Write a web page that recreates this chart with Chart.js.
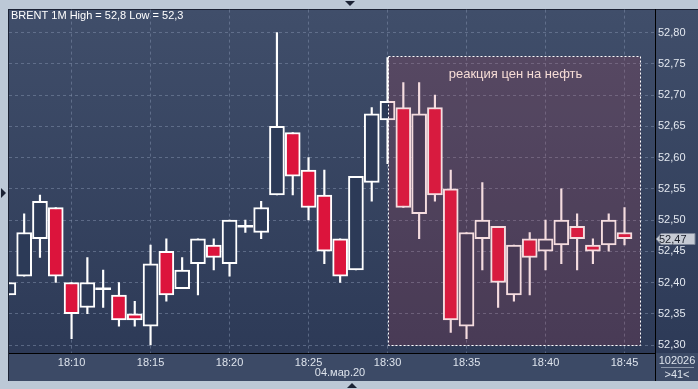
<!DOCTYPE html>
<html>
<head>
<meta charset="utf-8">
<script src="https://cdn.jsdelivr.net/npm/chart.js@4/dist/chart.umd.min.js"></script>
<style>
  html, body { margin: 0; padding: 0; background: #bcc8d6; }
  canvas { display: block; }
</style>
</head>
<body>
<canvas id="chart" width="698" height="389"></canvas>
<script>
// BRENT 1M, 04.03.20, 18:06 - 18:45 (minutes after 18:00)
const minutes = [6, 7, 8, 9, 10, 11, 12, 13, 14, 15, 16, 17, 18, 19, 20, 21, 22, 23, 24, 25,
                 26, 27, 28, 29, 30, 31, 32, 33, 34, 35, 36, 37, 38, 39, 40, 41, 42, 43, 44, 45];
const opens  = [52.38, 52.41, 52.47, 52.52, 52.40, 52.36, 52.39, 52.38, 52.35, 52.33, 52.45, 52.39, 52.43, 52.46, 52.43, 52.49, 52.48, 52.54, 52.64, 52.58,
                52.54, 52.47, 52.42, 52.56, 52.66, 52.68, 52.51, 52.68, 52.55, 52.33, 52.47, 52.49, 52.38, 52.47, 52.45, 52.46, 52.49, 52.46, 52.46, 52.48];
const highs  = [52.40, 52.51, 52.54, 52.52, 52.40, 52.44, 52.42, 52.40, 52.37, 52.46, 52.47, 52.44, 52.47, 52.47, 52.50, 52.50, 52.53, 52.80, 52.64, 52.60,
                52.58, 52.47, 52.57, 52.68, 52.76, 52.72, 52.72, 52.70, 52.58, 52.48, 52.56, 52.49, 52.46, 52.48, 52.50, 52.55, 52.51, 52.47, 52.51, 52.52];
const lows   = [52.38, 52.41, 52.44, 52.40, 52.31, 52.35, 52.36, 52.33, 52.33, 52.30, 52.37, 52.39, 52.38, 52.42, 52.41, 52.48, 52.47, 52.54, 52.54, 52.50,
                52.43, 52.40, 52.42, 52.53, 52.59, 52.52, 52.47, 52.53, 52.32, 52.31, 52.42, 52.36, 52.37, 52.38, 52.42, 52.43, 52.42, 52.43, 52.45, 52.46];
const closes = [52.40, 52.48, 52.53, 52.41, 52.35, 52.40, 52.39, 52.34, 52.34, 52.43, 52.38, 52.42, 52.47, 52.44, 52.50, 52.49, 52.52, 52.65, 52.57, 52.52,
                52.45, 52.41, 52.57, 52.67, 52.69, 52.52, 52.67, 52.54, 52.34, 52.48, 52.50, 52.40, 52.46, 52.44, 52.47, 52.50, 52.47, 52.45, 52.50, 52.47];

const xTickValues = [10, 15, 20, 25, 30, 35, 40, 45];
const yTickValues = [52.30, 52.35, 52.40, 52.45, 52.50, 52.55, 52.60, 52.65, 52.70, 52.75, 52.80];

// "реакция цен на нефть" zone (minutes / price)
const zoneStart = 30;
const zoneEnd = 46;
const zoneTop = 52.762;
const zoneBottom = 52.30;

const RED = '#dc143c';
const HOLLOW = '#2c3a57';
const FONT = '"Liberation Sans", Arial, sans-serif';

const fmt = (v, d) => v.toFixed(d).replace('.', ',');

const wickData = minutes.map((m, i) => ({ x: m, y: [lows[i], highs[i]] }));
const bodyData = minutes.map((m, i) => {
    let lo = Math.min(opens[i], closes[i]);
    let hi = Math.max(opens[i], closes[i]);
    if (hi - lo < 0.001) { lo -= 0.0015; hi += 0.0015; }
    return { x: m, y: [lo, hi] };
});
const isDoji = minutes.map((m, i) => Math.abs(opens[i] - closes[i]) < 0.001);
const bodyColors = minutes.map((m, i) => isDoji[i] ? '#ffffff' : (closes[i] < opens[i] ? RED : HOLLOW));
const bodyBorders = minutes.map((m, i) => isDoji[i] ? 0 : 2);

const backgroundPlugin = {
    id: 'panelBg',
    beforeDraw(chart) {
        const ctx = chart.ctx;
        const W = chart.width, H = chart.height;
        ctx.save();
        ctx.fillStyle = '#bcc8d6';
        ctx.fillRect(0, 0, W, H);
        const g = ctx.createLinearGradient(0, 9, 0, 353);
        g.addColorStop(0, '#404e6a');
        g.addColorStop(1, '#2d3a57');
        ctx.fillStyle = g;
        ctx.fillRect(9, 9, W - 9, 344);
        ctx.fillStyle = '#3c4a66';
        ctx.fillRect(9, 353, W - 9, 28);
        // frame lines
        ctx.strokeStyle = '#1b2234';
        ctx.lineWidth = 1;
        ctx.beginPath();
        ctx.moveTo(8.5, 9); ctx.lineTo(8.5, 381);
        ctx.moveTo(9, 9.5); ctx.lineTo(W, 9.5);
        ctx.stroke();
        // small triangles on the frame
        ctx.fillStyle = '#1b2234';
        ctx.beginPath();
        ctx.moveTo(345, 1); ctx.lineTo(355, 1); ctx.lineTo(350, 6); ctx.closePath();
        ctx.fill();
        ctx.beginPath();
        ctx.moveTo(347, 388); ctx.lineTo(357, 388); ctx.lineTo(352, 383); ctx.closePath();
        ctx.fill();
        ctx.beginPath();
        ctx.moveTo(1, 188); ctx.lineTo(6, 193); ctx.lineTo(1, 198); ctx.closePath();
        ctx.fill();
        ctx.restore();
    }
};

const overlayPlugin = {
    id: 'zone',
    afterDatasetsDraw(chart) {
        const ctx = chart.ctx;
        const xs = chart.scales.x, ys = chart.scales.y;
        const x1 = Math.round(xs.getPixelForValue(zoneStart)) + 0.5;
        const x2 = Math.round(xs.getPixelForValue(zoneEnd)) + 0.5;
        const y1 = Math.round(ys.getPixelForValue(zoneTop)) + 0.5;
        const y2 = Math.round(ys.getPixelForValue(zoneBottom)) + 0.5;
        ctx.save();
        ctx.fillStyle = 'rgba(200, 60, 80, 0.18)';
        ctx.fillRect(x1, y1, x2 - x1, y2 - y1);
        ctx.strokeStyle = '#ffffff';
        ctx.lineWidth = 1;
        ctx.setLineDash([2, 2]);
        ctx.strokeRect(x1, y1, x2 - x1, y2 - y1);
        ctx.setLineDash([]);
        ctx.fillStyle = '#f6dcd6';
        ctx.font = '13px ' + FONT;
        ctx.textAlign = 'center';
        ctx.textBaseline = 'middle';
        ctx.fillText('реакция цен на нефть', (x1 + x2) / 2 + 1, 74);
        ctx.restore();
    },
    afterDraw(chart) {
        const ctx = chart.ctx;
        const ys = chart.scales.y;
        const area = chart.chartArea;
        ctx.save();
        // axis separator lines
        ctx.strokeStyle = '#000000';
        ctx.lineWidth = 1;
        ctx.beginPath();
        ctx.moveTo(area.right + 0.5, 9); ctx.lineTo(area.right + 0.5, 381);
        ctx.moveTo(9, area.bottom + 0.5); ctx.lineTo(area.right, area.bottom + 0.5);
        ctx.stroke();
        // title
        ctx.fillStyle = '#ffffff';
        ctx.font = '11px ' + FONT;
        ctx.textAlign = 'left';
        ctx.textBaseline = 'middle';
        const hi = Math.max(...highs), lo = Math.min(...lows);
        ctx.fillText('BRENT 1M High = ' + fmt(hi, 1) + ' Low = ' + fmt(lo, 1), 11, 16);
        // date under time axis
        ctx.fillStyle = '#dde3ec';
        ctx.textAlign = 'center';
        ctx.fillText('04.мар.20', 340, 373);
        // bottom-right counters
        ctx.fillText('102026', 677, 361);
        ctx.fillText('>41<', 677, 375);
        ctx.strokeStyle = '#8d98ab';
        ctx.beginPath();
        ctx.moveTo(661, 367.5); ctx.lineTo(694, 367.5);
        ctx.stroke();
        // last price tag
        const last = closes[closes.length - 1];
        const py = Math.round(ys.getPixelForValue(last));
        ctx.fillStyle = '#c6cbd4';
        ctx.strokeStyle = '#7d8698';
        ctx.beginPath();
        ctx.moveTo(area.right + 1, py);
        ctx.lineTo(area.right + 6, py - 5.5);
        ctx.lineTo(695, py - 5.5);
        ctx.lineTo(695, py + 5.5);
        ctx.lineTo(area.right + 6, py + 5.5);
        ctx.closePath();
        ctx.fill();
        ctx.stroke();
        ctx.fillStyle = '#1a1f2b';
        ctx.textAlign = 'left';
        ctx.fillText(fmt(last, 2), area.right + 4, py + 0.5);
        ctx.restore();
    }
};

new Chart(document.getElementById('chart'), {
    type: 'bar',
    data: {
        datasets: [
            {
                label: 'body',
                data: bodyData,
                backgroundColor: bodyColors,
                borderColor: '#ffffff',
                borderWidth: bodyBorders,
                borderSkipped: false,
                barThickness: 15,
                grouped: false
            },
            {
                label: 'wick',
                data: wickData,
                backgroundColor: '#ffffff',
                borderWidth: 0,
                barThickness: 1.5,
                grouped: false
            }
        ]
    },
    options: {
        responsive: false,
        animation: false,
        devicePixelRatio: 1,
        layout: { padding: { left: 9, top: 9, right: 0, bottom: 8 } },
        plugins: {
            legend: { display: false },
            tooltip: { enabled: false }
        },
        scales: {
            x: {
                type: 'linear',
                position: 'bottom',
                offset: false,
                min: 6.04,
                max: 46.93,
                afterBuildTicks: (s) => { s.ticks = xTickValues.map(v => ({ value: v })); },
                afterFit: (s) => { s.height = 28; },
                grid: { offset: false, color: 'rgba(125, 140, 168, 0.55)', drawTicks: false, lineWidth: 1 },
                border: { display: false, dash: [3, 3] },
                ticks: {
                    color: '#dde3ec',
                    font: { family: FONT, size: 11 },
                    padding: 3,
                    maxRotation: 0,
                    autoSkip: false,
                    callback: (v) => '18:' + String(v).padStart(2, '0')
                }
            },
            y: {
                type: 'linear',
                position: 'right',
                min: 52.2872,
                max: 52.8367,
                afterBuildTicks: (s) => { s.ticks = yTickValues.map(v => ({ value: v })); },
                afterFit: (s) => { s.width = 43; },
                grid: { color: 'rgba(125, 140, 168, 0.55)', drawTicks: false, lineWidth: 1 },
                border: { display: false, dash: [3, 3] },
                ticks: {
                    color: '#e3e8f0',
                    font: { family: FONT, size: 11 },
                    padding: 3,
                    autoSkip: false,
                    callback: (v) => fmt(v, 2)
                }
            }
        }
    },
    plugins: [backgroundPlugin, overlayPlugin]
});
</script>
</body>
</html>
